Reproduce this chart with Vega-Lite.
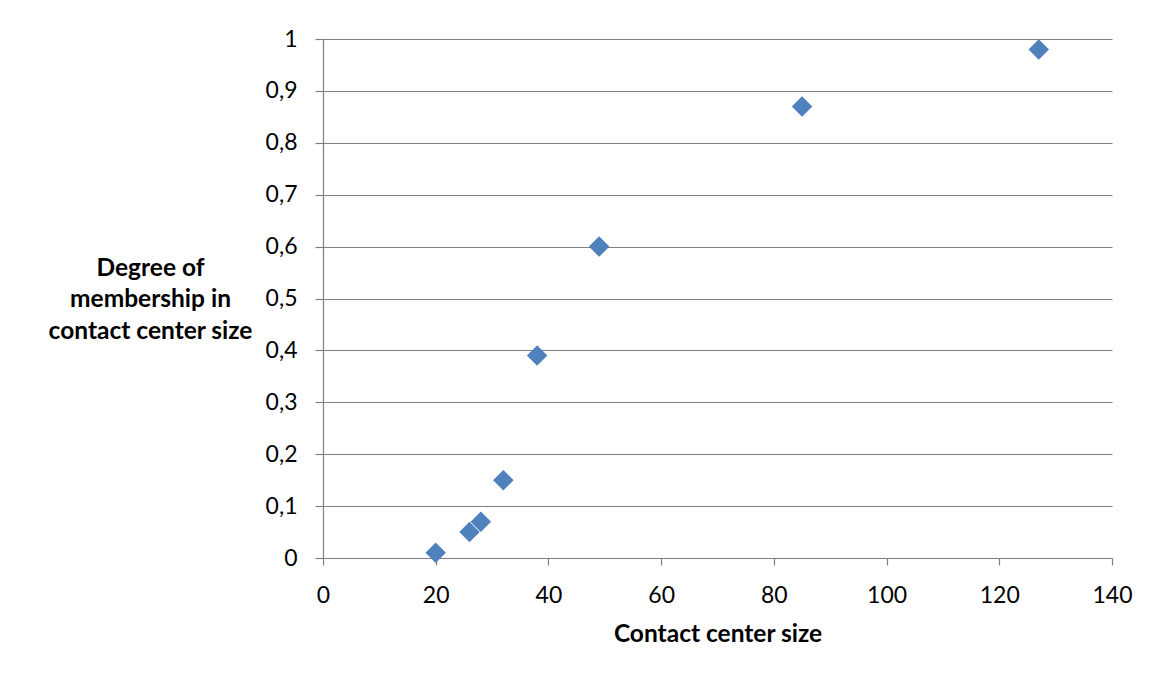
{
  "$schema": "https://vega.github.io/schema/vega-lite/v6.json",
  "width": 789,
  "height": 519,
  "autosize": "none",
  "padding": {"left": 323, "top": 39, "right": 41, "bottom": 115},
  "background": "white",
  "config": {"view": {"stroke": null}, "font": "Lato"},
  "data": {"values": [
    {"size": 20, "membership": 0.01},
    {"size": 26, "membership": 0.05},
    {"size": 28, "membership": 0.07},
    {"size": 32, "membership": 0.15},
    {"size": 38, "membership": 0.39},
    {"size": 49, "membership": 0.6},
    {"size": 85, "membership": 0.87},
    {"size": 127, "membership": 0.98}
  ]},
  "mark": {"type": "point", "shape": "diamond", "filled": true, "size": 420, "color": "#4F81BD", "opacity": 1},
  "encoding": {
    "x": {
      "field": "size", "type": "quantitative",
      "scale": {"domain": [0, 140], "nice": false, "zero": true},
      "axis": {
        "values": [0, 20, 40, 60, 80, 100, 120, 140],
        "grid": false,
        "domainColor": "#808080", "domainWidth": 1.2,
        "tickColor": "#808080", "tickSize": 7, "tickWidth": 1.2,
        "labelFont": "Lato", "labelFontSize": 23, "labelColor": "#000000",
        "labelBaseline": "alphabetic", "labelPadding": 37,
        "labelFlush": false,
        "title": "Contact center size",
        "titleFont": "Lato", "titleFontSize": 24.5, "titleFontWeight": "bold", "titleColor": "#000000",
        "titleBaseline": "alphabetic", "titleY": 83, "titleX": 394.5, "titleAlign": "center"
      }
    },
    "y": {
      "field": "membership", "type": "quantitative",
      "scale": {"domain": [0, 1], "nice": false},
      "axis": {
        "values": [0, 0.1, 0.2, 0.3, 0.4, 0.5, 0.6, 0.7, 0.8, 0.9, 1],
        "labelExpr": "replace(format(datum.value, '.1~f'), '.', ',')",
        "grid": true, "gridColor": "#808080", "gridWidth": 1.2, "gridOpacity": 1,
        "domainColor": "#808080", "domainWidth": 1.2,
        "tickColor": "#808080", "tickSize": 8, "tickWidth": 1.2,
        "labelFont": "Lato", "labelFontSize": 23, "labelColor": "#000000",
        "labelPadding": 18, "labelFlush": false,
        "title": ["Degree of", "membership in", "contact center size"],
        "titleFont": "Lato", "titleFontSize": 24.5, "titleFontWeight": "bold", "titleColor": "#000000",
        "titleAngle": 0, "titleAlign": "center", "titleBaseline": "alphabetic",
        "titleX": -173, "titleY": 236, "titleLineHeight": 31.5
      }
    }
  }
}
